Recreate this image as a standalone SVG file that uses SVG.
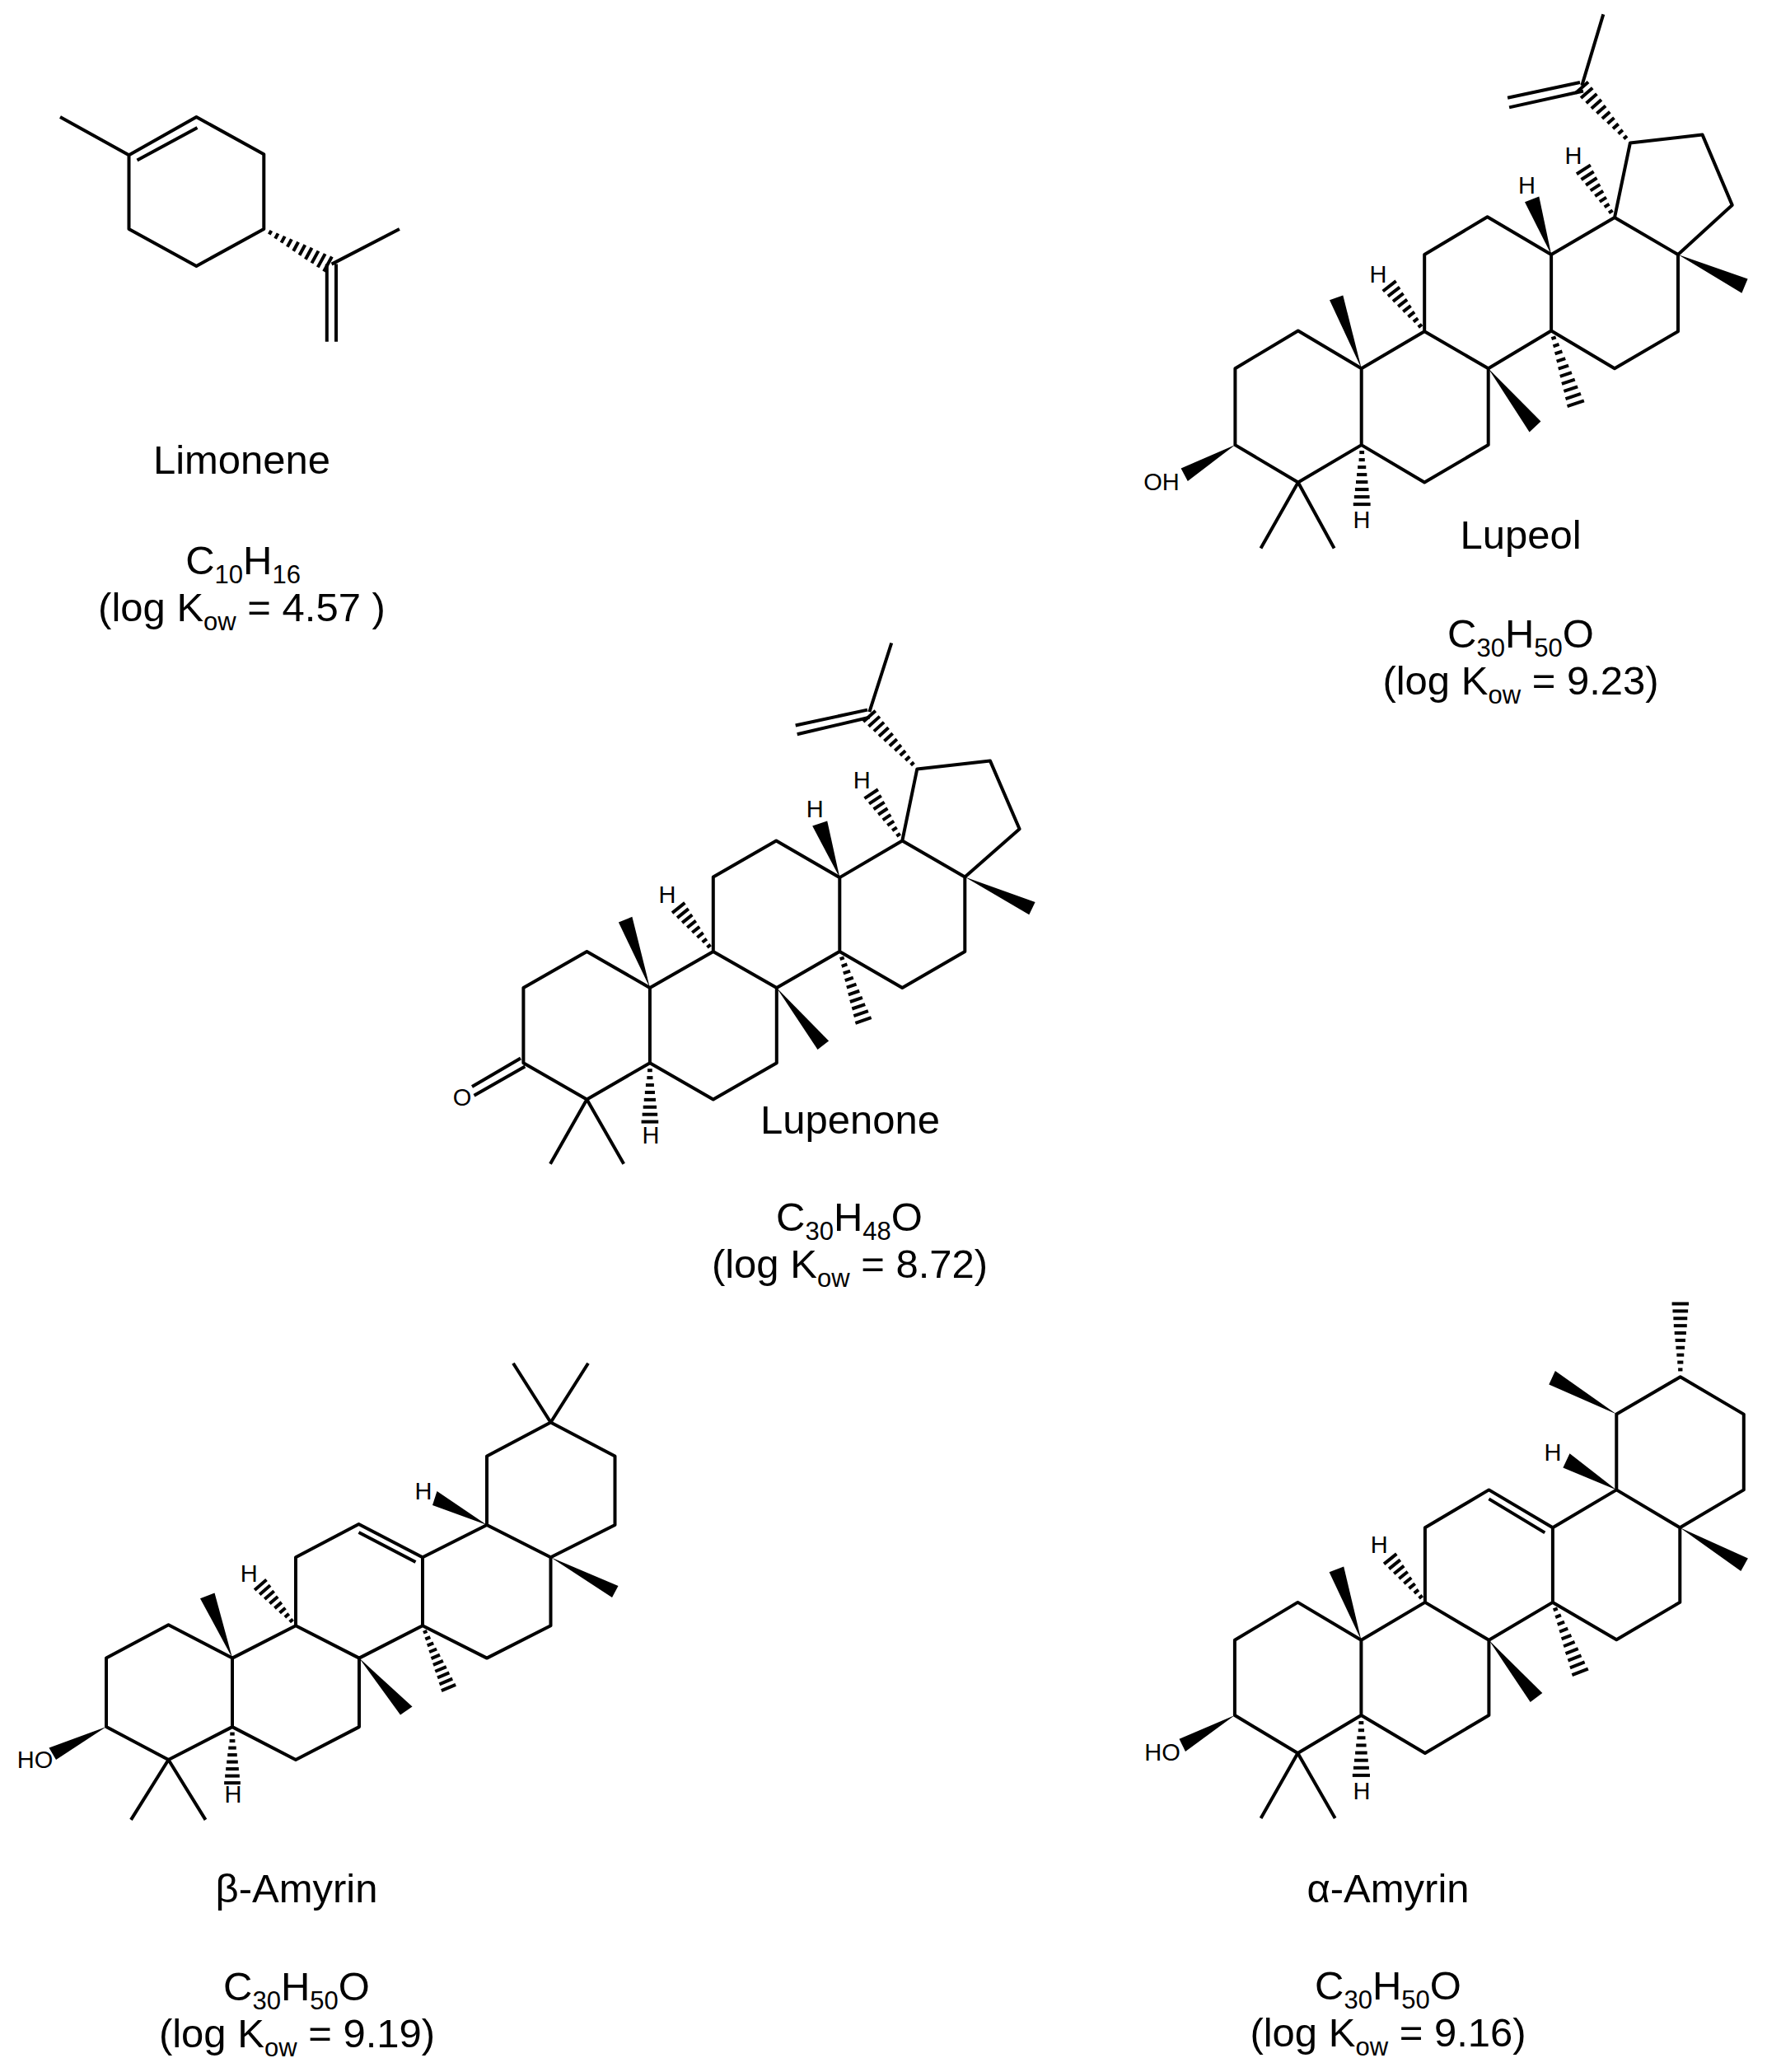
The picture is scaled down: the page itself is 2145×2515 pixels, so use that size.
<svg xmlns="http://www.w3.org/2000/svg" xmlns:xlink="http://www.w3.org/1999/xlink" width="2145" height="2515" viewBox="0 0 2145 2515">
<style>
text{font-family:"Liberation Sans",Arial,sans-serif;fill:#000;text-anchor:middle}
.t{font-size:49px}
.a{font-size:29px}
.s{font-size:31px}
.b{fill:none;stroke:#000;stroke-width:4;stroke-linejoin:round;stroke-linecap:butt}
.w{fill:#000;stroke:none}
.h line{stroke:#000;stroke-width:4;vector-effect:non-scaling-stroke}
</style>
<defs>
<g id="hash" class="h">
<line x1=".125" y1="-.04" x2=".125" y2=".04"/><line x1=".25" y1="-.05" x2=".25" y2=".05"/><line x1=".375" y1="-.07" x2=".375" y2=".07"/><line x1=".5" y1="-.085" x2=".5" y2=".085"/><line x1=".625" y1="-.1" x2=".625" y2=".1"/><line x1=".75" y1="-.115" x2=".75" y2=".115"/><line x1=".875" y1="-.13" x2=".875" y2=".13"/><line x1="1" y1="-.145" x2="1" y2=".145"/>
</g>
<g id="hashL" class="h">
<line x1=".1" y1="-.03" x2=".1" y2=".03"/><line x1=".2" y1="-.04" x2=".2" y2=".04"/><line x1=".3" y1="-.05" x2=".3" y2=".05"/><line x1=".4" y1="-.06" x2=".4" y2=".06"/><line x1=".5" y1="-.07" x2=".5" y2=".07"/><line x1=".6" y1="-.08" x2=".6" y2=".08"/><line x1=".7" y1="-.09" x2=".7" y2=".09"/><line x1=".8" y1="-.095" x2=".8" y2=".095"/><line x1=".9" y1="-.105" x2=".9" y2=".105"/><line x1="1" y1="-.115" x2="1" y2=".115"/>
</g>
</defs>
<rect width="2145" height="2515" fill="#fff"/>

<g id="limonene">
<g transform="translate(-2 -1.500)">
<path class="b" d="M75 143.500L158.500 189.700L240.400 143.500L322.300 188.800V279.500L240.400 324.400L158.500 279.500V189.700M168.500 196L241.500 156.500M404.600 322.100L486.900 279.500M398.800 322V416.300M410 322V416.300"/>
<use xlink:href="#hashL" href="#hashL" transform="matrix(77.7 42.5 -42.5 77.7 322.3 279.5)"/>
</g>
<text class="t" x="293.500" y="575">Limonene</text>
<text class="t" x="295" y="697">C<tspan class="s" dy="11">10</tspan><tspan dy="-11">H</tspan><tspan class="s" dy="11">16</tspan></text>
<text class="t" x="293.500" y="754">(log K<tspan class="s" dy="11">ow</tspan><tspan dy="-11"> = 4.57 )</tspan></text>
</g>

<g id="lupeol">
<g transform="translate(-3 -1.500)">
<path class="b" d="M1502.400 448.700L1578.800 403L1655.700 448.700V541.600L1578.800 587L1502.400 541.600ZM1655.700 448.700L1732.200 403.800L1809.700 448.700V541.600L1732.200 587L1655.700 541.600M1732.200 403.800V310.500L1808.600 264.700L1886.100 310.500V403L1809.700 448.700M1886.100 310.500L1963 265.600L2040 310.500V403.800L1963 448.700L1886.100 403M1963 265.600L1981.900 175L2069.600 165.100L2105.700 250.400L2040 310.500M1533.500 667L1578.800 587L1622.600 667M1949.300 18.800L1923.300 105.400M1921 101.500L1833.100 120.300M1925 112L1835.100 131.900"/>
<polygon class="w" points="1655.700,448.700 1617,365.700 1633.300,359.900"/>
<polygon class="w" points="1809.700,448.700 1873.400,512.900 1859.600,525.900"/>
<polygon class="w" points="1886.100,310.500 1854,246.800 1871.300,240"/>
<polygon class="w" points="2040,310.500 2124.600,340.100 2117.400,357.200"/>
<polygon class="w" points="1502.400,541.600 1436.600,569.900 1444.800,585.600"/>
<use xlink:href="#hash" href="#hash" transform="matrix(-42.5 -55 55 -42.5 1732.2 403.8)"/>
<use xlink:href="#hashL" href="#hashL" transform="matrix(29.6 88.3 -88.3 29.6 1886.1 403)"/>
<use xlink:href="#hash" href="#hash" transform="matrix(-37.6 -58.3 58.3 -37.6 1963 265.6)"/>
<use xlink:href="#hashL" href="#hashL" transform="matrix(-58.6 -67.3 67.3 -58.6 1981.9 175)"/>
<use xlink:href="#hash" href="#hash" transform="matrix(0 72 -72 0 1656.2 541.6)"/>
</g>
<text class="a" x="1673" y="343">H</text>
<text class="a" x="1853.500" y="234.500">H</text>
<text class="a" x="1910" y="198.500">H</text>
<text class="a" x="1653" y="641">H</text>
<text class="a" x="1410" y="595">OH</text>
<text class="t" x="1846" y="666">Lupeol</text>
<text class="t" x="1846" y="786">C<tspan class="s" dy="11">30</tspan><tspan dy="-11">H</tspan><tspan class="s" dy="11">50</tspan><tspan dy="-11">O</tspan></text>
<text class="t" x="1846" y="843">(log K<tspan class="s" dy="11">ow</tspan><tspan dy="-11"> = 9.23)</tspan></text>
</g>

<g id="lupenone">
<g transform="translate(-3 -1)">
<path class="b" d="M638.400 1200L715.400 1155.900L791.900 1200V1291.300L715.400 1335.400L638.400 1291.300ZM791.900 1200L868.800 1155.900L945.800 1200V1291.300L868.800 1335.400L791.900 1291.300M868.800 1155.900V1065.600L945.300 1021.500L1022.300 1066.100V1155.900L945.800 1200M1022.300 1066.100L1098.300 1021.500L1174.300 1065.600V1155.900L1098.300 1200L1022.300 1155.900M1098.300 1021.500L1116.300 934.400L1205 924.600L1240.600 1007.200L1174.300 1065.600M671 1413.800L715.400 1335.400L760.200 1413.800M1085.200 781.500L1058.400 865.100M1056 862.600L968.700 881.500M1058.400 871.800L970.700 892.300M635 1285.600L576 1320M640.300 1295.400L578.500 1330.800"/>
<polygon class="w" points="791.900,1200 753.900,1120.500 770.400,1113.800"/>
<polygon class="w" points="945.800,1200 1009.100,1264.600 995.500,1274.900"/>
<polygon class="w" points="1022.300,1066.100 989.200,1003.600 1007.200,997.400"/>
<polygon class="w" points="1174.300,1065.600 1259.600,1095.900 1252.300,1111.300"/>
<use xlink:href="#hash" href="#hash" transform="matrix(-42.1 -52.9 52.9 -42.1 868.8 1155.9)"/>
<use xlink:href="#hashL" href="#hashL" transform="matrix(28.7 83.6 -83.6 28.7 1022.3 1155.9)"/>
<use xlink:href="#hash" href="#hash" transform="matrix(-37.6 -56.8 56.8 -37.6 1098.3 1021.5)"/>
<use xlink:href="#hashL" href="#hashL" transform="matrix(-57.9 -64.1 64.1 -57.9 1116.3 934.4)"/>
<use xlink:href="#hash" href="#hash" transform="matrix(0 71.3 -71.3 0 791.9 1291.3)"/>
</g>
<text class="a" x="810" y="1096">H</text>
<text class="a" x="989.300" y="992">H</text>
<text class="a" x="1046.300" y="957">H</text>
<text class="a" x="790" y="1388">H</text>
<text class="a" x="561" y="1342">O</text>
<text class="t" x="1032" y="1376">Lupenone</text>
<text class="t" x="1031" y="1494">C<tspan class="s" dy="11">30</tspan><tspan dy="-11">H</tspan><tspan class="s" dy="11">48</tspan><tspan dy="-11">O</tspan></text>
<text class="t" x="1031.500" y="1551">(log K<tspan class="s" dy="11">ow</tspan><tspan dy="-11"> = 8.72)</tspan></text>
</g>

<g id="beta-amyrin">
<g transform="translate(-3 -1)">
<path class="b" d="M132 2013.600L207.500 1973.200L285 2013.600V2097.100L207.500 2137L132 2097.100ZM285 2013.600L362 1974.300L439 2013.600V2097.100L362 2137L285 2097.100M362 1974.300V1891.300L438.500 1850.900L516 1891.300V1974.300L439 2013.600M516 1891.300L594 1852L671.500 1891.300V1974.300L594 2013.600L516 1974.300M594 1852V1768.400L671.500 1727.500L749.500 1768.400V1852L671.500 1891.300M626 1655.700L671.500 1727.500L717 1655.700M162 2209.900L207.500 2137L252.500 2209.900M438.500 1861L507.500 1896.900"/>
<polygon class="w" points="285,2013.600 246,1941.200 263.500,1934.500"/>
<polygon class="w" points="439,2013.600 503.500,2072.500 489,2082.600"/>
<polygon class="w" points="594,1852 533.500,1811.100 528,1827.900"/>
<polygon class="w" points="671.500,1891.300 753.500,1926.100 746,1940.100"/>
<polygon class="w" points="132,2097.100 62.500,2122.400 71,2137"/>
<use xlink:href="#hash" href="#hash" transform="matrix(-42.7 -49.6 49.6 -42.7 362 1974.3)"/>
<use xlink:href="#hashL" href="#hashL" transform="matrix(31.5 75.2 -75.2 31.5 516 1974.3)"/>
<use xlink:href="#hash" href="#hash" transform="matrix(0 68 -68 0 285 2097.1)"/>
</g>
<text class="a" x="283" y="2188">H</text>
<text class="a" x="302.300" y="1919.500">H</text>
<text class="a" x="514" y="1820">H</text>
<text class="a" x="42.500" y="2146">HO</text>
<text class="t" x="360" y="2309">β-Amyrin</text>
<text class="t" x="360" y="2428">C<tspan class="s" dy="11">30</tspan><tspan dy="-11">H</tspan><tspan class="s" dy="11">50</tspan><tspan dy="-11">O</tspan></text>
<text class="t" x="360.500" y="2485">(log K<tspan class="s" dy="11">ow</tspan><tspan dy="-11"> = 9.19)</tspan></text>
</g>

<g id="alpha-amyrin">
<g transform="translate(-3 -2)">
<path class="b" d="M1501.900 1992.800L1578.400 1946.900L1655.400 1992.800V2084L1578.400 2130L1501.900 2084ZM1655.400 1992.800L1732.900 1946.900L1810.400 1992.800V2084L1732.900 2130L1655.400 2084M1732.900 1946.900V1856.300L1810.400 1810.400L1887.900 1856.300V1946.900L1810.400 1992.800M1887.900 1856.300L1965.300 1810.400L2042.300 1856.300V1946.900L1965.300 1992.200L1887.900 1946.900M1965.300 1810.400V1718.600L2042.800 1673.300L2119.800 1718.600V1810.400L2042.300 1856.300M1533.600 2209L1578.400 2130L1623.700 2209M1810.400 1821.400L1878.300 1862.400"/>
<polygon class="w" points="1655.400,1992.800 1616.600,1910.200 1634.200,1903.400"/>
<polygon class="w" points="1810.400,1992.800 1875.300,2057.100 1860.700,2068.100"/>
<polygon class="w" points="1965.300,1810.400 1908.500,1766.300 1900.400,1783.500"/>
<polygon class="w" points="1965.300,1718.600 1890.900,1665.900 1883.300,1682.400"/>
<polygon class="w" points="2042.300,1856.300 2124.900,1893.600 2116.300,1909"/>
<polygon class="w" points="1501.900,2084 1434.500,2112.800 1442,2128.100"/>
<use xlink:href="#hash" href="#hash" transform="matrix(-42.2 -52.6 52.6 -42.2 1732.9 1946.9)"/>
<use xlink:href="#hashL" href="#hashL" transform="matrix(33.2 84.5 -84.5 33.2 1887.9 1946.9)"/>
<use xlink:href="#hash" href="#hash" transform="matrix(0 72.9 -72.9 0 1655.4 2084)"/>
<use xlink:href="#hashL" href="#hashL" transform="matrix(0 -88.8 88.8 0 2042.8 1673.3)"/>
</g>
<text class="a" x="1674.300" y="1885">H</text>
<text class="a" x="1653" y="2184">H</text>
<text class="a" x="1885" y="1773">H</text>
<text class="a" x="1411" y="2137">HO</text>
<text class="t" x="1685" y="2309">α-Amyrin</text>
<text class="t" x="1685" y="2427">C<tspan class="s" dy="11">30</tspan><tspan dy="-11">H</tspan><tspan class="s" dy="11">50</tspan><tspan dy="-11">O</tspan></text>
<text class="t" x="1685" y="2484">(log K<tspan class="s" dy="11">ow</tspan><tspan dy="-11"> = 9.16)</tspan></text>
</g>
</svg>
